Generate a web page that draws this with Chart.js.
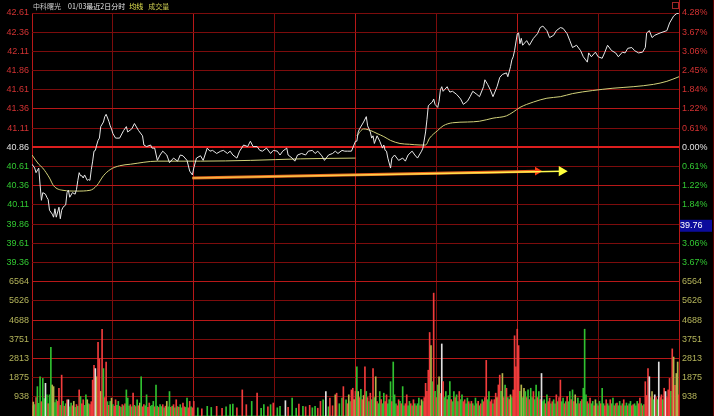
<!DOCTYPE html>
<html>
<head>
<meta charset="utf-8">
<script src="https://cdn.jsdelivr.net/npm/chart.js@4.4.1/dist/chart.umd.min.js"></script>
<style>
    html, body { margin: 0; padding: 0; background: #000; overflow: hidden; }
    #wrap { width: 714px; height: 422px; }
</style>
</head>
<body>
<div id="wrap"><canvas id="myChart" width="714" height="422"></canvas></div>
<script>
// 前日終値と目盛り
const prevClose = 40.86;
const priceTicks = [42.61, 42.36, 42.11, 41.86, 41.61, 41.36, 41.11, 40.86, 40.61, 40.36, 40.11, 39.86, 39.61, 39.36];
const volumeTicks = [6564, 5626, 4688, 3751, 2813, 1875, 938];
const timeTicks = [0, 60, 120, 180, 240, 300, 360, 420, 480];
const cursorPrice = 39.76;

const titleParts = [
    { text: '中科曙光', color: '#c8c8c8', gap: 7 },
    { text: '01/03最近2日分时', color: '#e6e6e6', gap: 4 },
    { text: '均线', color: '#e6e650', gap: 5 },
    { text: '成交量', color: '#c8c850', gap: 0 }
];

// 分时价格 (minute index 0-480, two trading days)
const priceMinutes = [
    0, 2, 3, 5, 6, 7, 8, 10, 11, 12,
    13, 15, 16, 17, 18, 20, 21, 22, 23, 25,
    26, 27, 28, 30, 32, 33, 34, 35, 36, 37,
    38, 39, 41, 42, 43, 44, 45, 46, 47, 48,
    49, 50, 51, 53, 54, 55, 57, 58, 59, 60,
    62, 63, 65, 68, 70, 71, 74, 76, 79, 82,
    83, 85, 88, 89, 91, 93, 95, 97, 100, 102,
    105, 108, 110, 112, 115, 117, 119, 120, 122, 125,
    127, 130, 132, 134, 137, 140, 142, 145, 147, 149,
    152, 154, 157, 160, 162, 164, 167, 169, 171, 174,
    177, 179, 182, 184, 186, 189, 190, 193, 195, 197,
    200, 203, 205, 208, 210, 212, 215, 217, 220, 223,
    225, 227, 230, 232, 234, 237, 240,
    241, 242, 243, 246, 248, 249, 251, 252, 253, 254,
    256, 258, 260, 261, 262, 263, 264, 266, 267, 269,
    272, 275, 277, 279, 282, 284, 286, 289, 290, 292,
    293, 294, 295, 297, 298, 299, 301, 302, 303, 304,
    305, 306, 308, 309, 310, 312, 315, 318, 320, 323,
    325, 327, 330, 332, 335, 336, 338, 340, 342, 345,
    347, 349, 352, 353, 355, 356, 357, 358, 360, 361,
    362, 363, 364, 367, 369, 372, 375, 377, 379, 382,
    384, 387, 389, 392, 394, 397, 399, 401, 404, 407,
    409, 412, 413, 415, 418, 420, 423, 425, 427, 430,
    433, 435, 438, 440, 442, 445, 447, 450, 453, 455,
    456, 458, 460, 462, 466, 471, 473, 476, 478, 480
];
const priceValues = [
    40.64, 40.59, 40.53, 40.59, 40.37, 40.17, 40.27, 40.25, 40.21, 40.18,
    40.04, 39.99, 39.95, 40.06, 39.95, 40.08, 39.93, 40.04, 40.08, 40.11,
    40.27, 40.30, 40.21, 40.27, 40.25, 40.31, 40.43, 40.53, 40.49, 40.49,
    40.46, 40.50, 40.43, 40.44, 40.43, 40.57, 40.68, 40.81, 40.82, 40.89,
    40.95, 40.98, 41.13, 41.19, 41.26, 41.29, 41.20, 41.14, 41.10, 41.04,
    40.98, 40.98, 40.98, 41.08, 41.13, 41.06, 41.10, 41.17, 41.08, 41.01,
    40.89, 40.87, 40.89, 40.85, 40.85, 40.69, 40.76, 40.81, 40.76, 40.66,
    40.72, 40.68, 40.76, 40.75, 40.69, 40.55, 40.50, 40.59, 40.72, 40.75,
    40.69, 40.85, 40.81, 40.82, 40.78, 40.81, 40.82, 40.78, 40.81, 40.76,
    40.72, 40.81, 40.89, 40.87, 40.94, 40.87, 40.87, 40.82, 40.81, 40.85,
    40.78, 40.82, 40.81, 40.76, 40.81, 40.85, 40.76, 40.72, 40.68, 40.76,
    40.78, 40.76, 40.81, 40.82, 40.78, 40.81, 40.75, 40.69, 40.76, 40.78,
    40.81, 40.78, 40.82, 40.81, 40.81, 40.81, 40.94,
    40.94, 41.06, 41.10, 41.19, 41.26, 41.14, 41.06, 40.98, 41.01, 40.91,
    41.01, 40.94, 40.85, 40.89, 40.82, 40.81, 40.72, 40.59, 40.72, 40.76,
    40.69, 40.72, 40.68, 40.76, 40.81, 40.76, 40.72, 40.81, 40.85, 41.06,
    41.22, 41.40, 41.42, 41.45, 41.49, 41.42, 41.38, 41.46, 41.61, 41.65,
    41.59, 41.61, 41.65, 41.61, 41.58, 41.59, 41.55, 41.49, 41.42, 41.46,
    41.52, 41.59, 41.55, 41.52, 41.65, 41.74, 41.68, 41.61, 41.52, 41.65,
    41.77, 41.81, 41.83, 41.78, 41.91, 42.00, 42.04, 42.12, 42.34, 42.35,
    42.21, 42.28, 42.19, 42.25, 42.19, 42.28, 42.34, 42.42, 42.44, 42.38,
    42.29, 42.32, 42.38, 42.42, 42.41, 42.34, 42.25, 42.16, 42.19, 42.12,
    42.04, 41.97, 42.09, 42.04, 42.10, 42.04, 42.02, 42.10, 42.19, 42.12,
    42.09, 42.04, 42.10, 42.09, 42.15, 42.16, 42.12, 42.09, 42.10, 42.16,
    42.35, 42.38, 42.29, 42.32, 42.35, 42.38, 42.48, 42.57, 42.60, 42.61
];

// 均价线 (day 1 / day 2)
const avgMinutesDay1 = [0, 5, 8, 13, 16, 23, 33, 43, 48, 53, 58, 65, 73, 93, 125, 162, 199, 240];
const avgValuesDay1 = [40.76, 40.64, 40.59, 40.46, 40.36, 40.30, 40.29, 40.30, 40.36, 40.49, 40.57, 40.62, 40.64, 40.68, 40.68, 40.69, 40.71, 40.72];
const avgMinutesDay2 = [241, 246, 251, 256, 261, 266, 273, 280, 288, 292, 295, 301, 305, 312, 323, 332, 342, 352, 357, 362, 372, 382, 392, 401, 416, 431, 446, 461, 471, 480];
const avgValuesDay2 = [41.01, 41.10, 41.08, 41.04, 41.00, 40.95, 40.91, 40.90, 40.89, 40.89, 40.98, 41.08, 41.14, 41.18, 41.19, 41.20, 41.24, 41.27, 41.32, 41.38, 41.45, 41.50, 41.52, 41.56, 41.60, 41.63, 41.65, 41.68, 41.72, 41.78];

// 成交量 per minute
const volumeDay1 = [
    500, 682, 560, 900, 1435, 620, 1917, 700, 1836, 850,
    1596, 1035, 600, 1035, 3359, 1516, 1435, 650, 794, 714,
    1355, 520, 1997, 714, 480, 600, 794, 794, 450, 634,
    500, 714, 420, 560, 480, 1275, 955, 600, 794, 520,
    1035, 794, 600, 554, 700, 1756, 2478, 2317, 1917, 3600,
    2798, 1200, 4241, 2317, 900, 2638, 700, 520, 714, 875,
    560, 480, 794, 520, 714, 480, 420, 554, 500, 600,
    1275, 875, 480, 554, 450, 1115, 520, 460, 794, 500,
    634, 1917, 450, 554, 500, 1035, 420, 634, 480, 520,
    714, 450, 1516, 480, 420, 554, 460, 554, 400, 480,
    714, 450, 1195, 420, 480, 554, 400, 794, 460, 420,
    554, 400, 634, 450, 420, 875, 400, 714, 450, 400,
    714, 0, 0, 400, 0, 0, 350, 0, 0, 0,
    474, 0, 0, 420, 0, 0, 0, 474, 0, 0,
    0, 380, 0, 0, 450, 0, 0, 554, 0, 586,
    0, 0, 400, 0, 0, 0, 1275, 0, 0, 554,
    0, 0, 0, 714, 0, 0, 0, 1115, 0, 0,
    380, 0, 554, 0, 0, 450, 0, 554, 0, 634,
    0, 0, 400, 0, 474, 0, 0, 0, 747, 0,
    420, 0, 0, 875, 0, 0, 380, 0, 586, 0,
    0, 474, 0, 450, 0, 0, 522, 0, 400, 0,
    474, 0, 380, 0, 714, 0, 794, 0, 1195, 0,
    450, 875, 0, 500, 0, 1035, 1115, 0, 600, 0,
    875, 1435, 0, 794, 600, 1035, 700, 1275, 1355, 800,
    1200
];
const volumeDay2 = [
    2400, 1195, 900, 1300, 800, 1000, 2398, 1200, 900, 700,
    1115, 800, 2317, 900, 1917, 700, 600, 1195, 800, 600,
    1115, 700, 1035, 600, 800, 1676, 700, 2638, 1035, 600,
    500, 795, 714, 600, 1436, 500, 600, 1035, 500, 714,
    600, 500, 795, 600, 500, 600, 875, 500, 795, 700,
    900, 1596, 1200, 2237, 4081, 3440, 1676, 6004, 1200, 900,
    1516, 1917, 1100, 3520, 1676, 900, 1195, 800, 1000, 1676,
    800, 700, 1195, 900, 1035, 700, 1195, 800, 1035, 700,
    795, 600, 875, 700, 600, 714, 600, 500, 875, 600,
    714, 500, 600, 795, 700, 900, 2718, 800, 1195, 700,
    795, 600, 800, 1115, 900, 1516, 1997, 1200, 2077, 900,
    1516, 1356, 900, 800, 1035, 900, 1275, 3920, 2400, 4241,
    3440, 1200, 1516, 900, 1356, 1195, 900, 1275, 800, 1356,
    900, 1195, 800, 1516, 900, 1195, 800, 2077, 700, 795,
    600, 1035, 700, 875, 600, 700, 795, 600, 1035, 700,
    900, 1756, 700, 875, 600, 700, 955, 700, 1195, 800,
    1275, 700, 1035, 600, 875, 600, 714, 800, 1356, 4241,
    1035, 700, 600, 875, 600, 714, 500, 795, 600, 500,
    714, 600, 1356, 600, 500, 795, 600, 500, 795, 600,
    875, 500, 600, 634, 500, 714, 500, 600, 795, 500,
    634, 500, 600, 714, 500, 554, 600, 500, 714, 600,
    875, 600, 500, 554, 1676, 1000, 2317, 1917, 900, 1195,
    800, 1035, 900, 800, 2638, 900, 1035, 800, 1356, 1195,
    900, 1275, 1836, 1200, 3279, 2879, 1500, 2077, 2638, 1035
];
// r: 上涨 g: 下跌 w: 白 o: 橄榄
const volumeColorCodes =
    'rogrgggrgg' + 'wgrggooggr' + 'rgrgrgrwgg' + 'rogrgrgrrg' + 'gogrrrrwor' +
    'rorgrrgrgo' + 'grrggrgrgr' + 'gggrgrgrgr' + 'ogrrggrrgg' + 'grggrggrgr' +
    'oggrgrgrgr' + 'ggrrggrrgr' + 'rgggggrggg' + 'gggggggrgg' + 'grgggggggg' +
    'ggrgggrggr' + 'gggggggrgg' + 'gggggrgggr' + 'ggggggggwg' + 'rgggggggrg' +
    'gggrggrggg' + 'ggrgrgggwg' + 'grgrgorggg' + 'grggrogrro' + 'r' +
    'gorgrorgrg' + 'rgrgorggrg' + 'grrgggrggg' + 'rrgrggrrgg' + 'rgrgrggrog' +
    'rrrrrogrgr' + 'gorwrggrgg' + 'rggrggrggr' + 'rggrgrgrgg' + 'rgrgrrrggr' +
    'rgrrorrgor' + 'grgrogrrrr' + 'rgogogrgrg' + 'grggrgrwgg' + 'rgrrgrggrg' +
    'rrggrgrggr' + 'groggrgrgg' + 'grgrggrogr' + 'grggrrggrg' + 'grgrggrgrg' +
    'grggrrgggr' + 'rgrgrrrwro' + 'gwrgwrrgrw' + 'rrrgroroor';

// 趋势箭头
const trendStart = 119;
const redArrowEnd = 375;
const yellowArrowEnd = 393;
const trendPrices = [40.46, 40.55];

const gridRows = 21;
const priceMax = priceTicks[0];
const priceMin = priceMax - gridRows * (priceTicks[0] - priceTicks[1]);
const volumeMax = volumeTicks[0] / volumeTicks.length * gridRows;

const palette = { r: '#f03c3c', g: '#30c030', w: '#e0e0e0', o: '#b4b44a' };
const upColor = '#d23232';
const downColor = '#32c832';
const flatColor = '#e0e0e0';
const volumeLabelColor = '#b4b45a';
const dimGrid = '#7c0c0c';
const brightGrid = '#b81818';
const brightPriceLines = [41.36, 40.36];
const brightVolumeLines = [6564, 4688, 2813];

const volumes = volumeDay1.concat(volumeDay2);

/**
 * 左右の目盛り: 価格の目盛りと、同じ軸上に置いた出来高の目盛り
 */
function volumeOnPriceScale(v) {
    return priceMin + v / volumeMax * (priceMax - priceMin);
}

const axisTicks = priceTicks.map(v => ({ value: v, kind: 'price', raw: v }))
    .concat(volumeTicks.map(v => ({ value: volumeOnPriceScale(v), kind: 'volume', raw: v })));

function isPrevClose(v) {
    return Math.abs(v - prevClose) < 1e-6;
}

function priceColor(value) {
    if (isPrevClose(value)) return flatColor;
    return value > prevClose ? upColor : downColor;
}

function tickColor(c) {
    const t = axisTicks[c.index];
    return t.kind === 'price' ? priceColor(t.raw) : volumeLabelColor;
}

function gridColor(c) {
    const t = axisTicks[c.index];
    if (!t) return dimGrid;
    if (t.kind === 'price') {
        if (isPrevClose(t.raw)) return '#dc1e1e';
        return brightPriceLines.includes(t.raw) ? brightGrid : dimGrid;
    }
    return brightVolumeLines.includes(t.raw) ? brightGrid : dimGrid;
}

function toPoints(xs, ys) {
    return xs.map((x, i) => ({ x: x, y: ys[i] }));
}

function zeroPadding(scale) {
    scale.paddingTop = 0;
    scale.paddingBottom = 0;
    scale.paddingLeft = 0;
    scale.paddingRight = 0;
}

const overlayPlugin = {
    id: 'overlay',
    beforeDraw(chart) {
        const ctx = chart.ctx;
        ctx.save();
        ctx.fillStyle = '#000';
        ctx.fillRect(0, 0, chart.width, chart.height);
        ctx.restore();
    },
    afterDraw(chart) {
        const { ctx, chartArea } = chart;
        ctx.save();

        // タイトル
        ctx.font = '7px "Noto Sans CJK SC"';
        ctx.textBaseline = 'middle';
        ctx.textAlign = 'left';
        let x = chartArea.left + 1;
        titleParts.forEach(part => {
            ctx.fillStyle = part.color;
            ctx.fillText(part.text, x, 6);
            x += ctx.measureText(part.text).width + part.gap;
        });

        // 右側の枠
        ctx.lineWidth = 1;
        ctx.strokeStyle = brightGrid;
        ctx.beginPath();
        ctx.moveTo(chartArea.right + 0.5, 0);
        ctx.lineTo(chartArea.right + 0.5, chartArea.top);
        ctx.stroke();
        ctx.strokeStyle = '#5a0000';
        ctx.beginPath();
        ctx.moveTo(chart.width - 0.5, 0);
        ctx.lineTo(chart.width - 0.5, chart.height);
        ctx.stroke();
        ctx.strokeStyle = '#a02828';
        ctx.strokeRect(chartArea.right - 6.5, 2.5, 6, 6);

        // カーソル価格
        const yb = chart.scales.yPrice.getPixelForValue(cursorPrice);
        ctx.fillStyle = '#0c0c9c';
        ctx.fillRect(chartArea.right + 1, yb - 12, chart.width - chartArea.right - 3, 12);
        ctx.fillStyle = '#ffffff';
        ctx.font = '9px "Liberation Sans"';
        ctx.fillText(cursorPrice.toFixed(2), chartArea.right + 1, yb - 6);
        ctx.restore();
    }
};

const ctx = document.getElementById('myChart');
const tickFont = { family: 'Liberation Sans', size: 9 };

const myChart = new Chart(ctx, {
    type: 'line',
    data: {
        datasets: [
            {
                type: 'bar',
                label: '成交量',
                xAxisID: 'x',
                yAxisID: 'yVol',
                data: volumes.map((v, i) => ({ x: i, y: v })),
                backgroundColor: volumes.map((v, i) => palette[volumeColorCodes[i]]),
                barThickness: 1,
                borderWidth: 0,
                order: 5
            },
            {
                label: '均线1',
                yAxisID: 'yPrice',
                data: toPoints(avgMinutesDay1, avgValuesDay1),
                borderColor: '#d2d27a',
                borderWidth: 1,
                pointRadius: 0,
                cubicInterpolationMode: 'monotone',
                order: 3
            },
            {
                label: '均线2',
                yAxisID: 'yPrice',
                data: toPoints(avgMinutesDay2, avgValuesDay2),
                borderColor: '#d2d27a',
                borderWidth: 1,
                pointRadius: 0,
                cubicInterpolationMode: 'monotone',
                order: 3
            },
            {
                label: '价格',
                yAxisID: 'yPrice',
                data: toPoints(priceMinutes, priceValues),
                borderColor: '#e8e8e8',
                borderWidth: 1,
                pointRadius: 0,
                tension: 0,
                order: 2
            },
            {
                label: '红箭头',
                yAxisID: 'yPrice',
                data: toPoints([trendStart, redArrowEnd], trendPrices),
                borderColor: '#e8641e',
                borderWidth: 3,
                pointRadius: [0, 5],
                pointStyle: 'triangle',
                pointRotation: 90,
                pointBackgroundColor: '#ff3c14',
                pointBorderWidth: 0,
                order: 1
            },
            {
                label: '黄箭头',
                yAxisID: 'yPrice',
                data: toPoints([trendStart, yellowArrowEnd], trendPrices),
                borderColor: context => {
                    const chart = context.chart;
                    if (!chart.chartArea) return '#ffd23c';
                    const xs = chart.scales.x;
                    const g = chart.ctx.createLinearGradient(xs.getPixelForValue(trendStart), 0, xs.getPixelForValue(yellowArrowEnd), 0);
                    g.addColorStop(0, '#f0b040');
                    g.addColorStop(0.6, '#ffd84a');
                    g.addColorStop(1, '#ffff50');
                    return g;
                },
                borderWidth: 1.5,
                pointRadius: [0, 6],
                pointStyle: 'triangle',
                pointRotation: 90,
                pointBackgroundColor: '#ffff3c',
                pointBorderWidth: 0,
                order: 0
            }
        ]
    },
    options: {
        responsive: false,
        maintainAspectRatio: false,
        animation: false,
        events: [],
        layout: { padding: { top: 13, left: 0, right: 0, bottom: 0 } },
        plugins: {
            legend: { display: false },
            tooltip: { enabled: false },
            title: { display: false }
        },
        scales: {
            x: {
                type: 'linear',
                min: 0,
                max: 480,
                offset: false,
                afterBuildTicks: scale => { scale.ticks = timeTicks.map(v => ({ value: v })); },
                afterFit: scale => { scale.height = 0; zeroPadding(scale); },
                ticks: { display: false },
                grid: {
                    offset: false,
                    drawTicks: false,
                    color: c => ([0, 120, 240, 360, 480].includes(c.tick.value) ? brightGrid : dimGrid)
                },
                border: { display: false }
            },
            yPrice: {
                type: 'linear',
                position: 'left',
                min: priceMin,
                max: priceMax,
                afterBuildTicks: scale => { scale.ticks = axisTicks.map(t => ({ value: t.value })); },
                afterFit: scale => { scale.width = 32; zeroPadding(scale); },
                ticks: {
                    autoSkip: false,
                    padding: 3,
                    font: tickFont,
                    color: tickColor,
                    callback: (value, index) => {
                        const t = axisTicks[index];
                        return t.kind === 'price' ? t.raw.toFixed(2) : String(t.raw);
                    }
                },
                grid: {
                    drawTicks: false,
                    color: gridColor,
                    lineWidth: c => (axisTicks[c.index] && axisTicks[c.index].kind === 'price' && isPrevClose(axisTicks[c.index].raw) ? 2 : 1)
                },
                border: { display: false }
            },
            yPct: {
                type: 'linear',
                position: 'right',
                min: priceMin,
                max: priceMax,
                afterBuildTicks: scale => { scale.ticks = axisTicks.map(t => ({ value: t.value })); },
                afterFit: scale => { scale.width = 35; zeroPadding(scale); },
                ticks: {
                    autoSkip: false,
                    padding: 3,
                    font: tickFont,
                    color: tickColor,
                    callback: (value, index) => {
                        const t = axisTicks[index];
                        if (t.kind === 'volume') return String(t.raw);
                        return (Math.abs(t.raw - prevClose) / prevClose * 100).toFixed(2) + '%';
                    }
                },
                grid: { display: false, drawTicks: false },
                border: { display: false }
            },
            yVol: {
                type: 'linear',
                position: 'left',
                display: false,
                min: 0,
                max: volumeMax
            }
        }
    },
    plugins: [overlayPlugin]
});
</script>
</body>
</html>
